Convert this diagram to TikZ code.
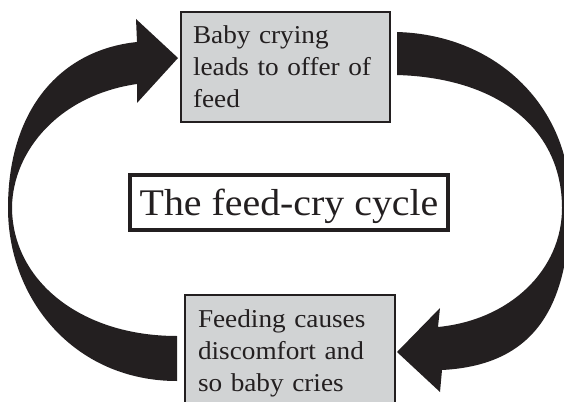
\documentclass[tikz,border=0pt]{standalone}
\usepackage{fontspec}
\setmainfont{Liberation Serif}[FakeStretch=1.06]
\definecolor{ink}{HTML}{231F20}
\definecolor{boxgray}{HTML}{D1D3D4}
\begin{document}
\begin{tikzpicture}[x=1pt,y=-1pt,
  stagebox/.style={draw=ink, line width=1.2pt, fill=boxgray, align=left,
    inner ysep=0pt, text=ink, font=\fontsize{25.7}{32}\selectfont},
  titlebox/.style={draw=ink, line width=4pt, fill=white, text=ink,
    font=\fontsize{37.6}{40}\selectfont},
  bigarrow/.style={fill=ink}]
\useasboundingbox (0,0) rectangle (564,401);

% the two stages of the cycle
\node[stagebox, minimum width=209pt, minimum height=110pt, text width=185pt,
  inner xsep=12pt] (offer) at (285.5,67) {Baby crying\\leads to offer of\\feed};
\node[stagebox, minimum width=210pt, minimum height=116pt, text width=184pt,
  inner xsep=13pt] (cries) at (290,353) {Feeding causes\\discomfort and\\so baby cries};

% title in the middle
\node[titlebox, minimum width=318pt, minimum height=55pt,
  text height=26pt, text depth=1pt] (title) at (289,202.5) {The feed-cry cycle};

% left arrow: from the crying stage up to the offer of feed
\coordinate (la-tail-in)  at (177,336);
\coordinate (la-tail-out) at (177,381);
\coordinate (la-base-out) at (137,42);
\coordinate (la-base-in)  at (137,84);
\coordinate (la-wing-up)  at (136,19);
\coordinate (la-wing-low) at (137,103);
\coordinate (la-tip)      at (178,58);
\fill[bigarrow] (la-tail-out) .. controls (75,381) and (8,300) .. (8,208)
  .. controls (8,110) and (60,50) .. (la-base-out) -- (la-wing-up) -- (la-tip)
  -- (la-wing-low) -- (la-base-in) .. controls (60,95) and (13,150) .. (12,207)
  .. controls (12,280) and (80,336) .. (la-tail-in) -- cycle;

% right arrow: from the offer of feed down to the crying stage
\coordinate (ra-tail-out) at (397,32);
\coordinate (ra-tail-in)  at (397,75);
\coordinate (ra-base-out) at (442,370);
\coordinate (ra-base-in)  at (438,327);
\coordinate (ra-wing-up)  at (440,308);
\coordinate (ra-wing-low) at (440,392);
\coordinate (ra-tip)      at (397,352);
\fill[bigarrow] (ra-tail-out) .. controls (500,35) and (570,110) .. (570,200)
  .. controls (570,300) and (540,365) .. (ra-base-out) -- (ra-wing-low) -- (ra-tip)
  -- (ra-wing-up) -- (ra-base-in) .. controls (510,320) and (562,270) .. (562,208)
  .. controls (562,130) and (500,78) .. (ra-tail-in) -- cycle;
\end{tikzpicture}
\end{document}
